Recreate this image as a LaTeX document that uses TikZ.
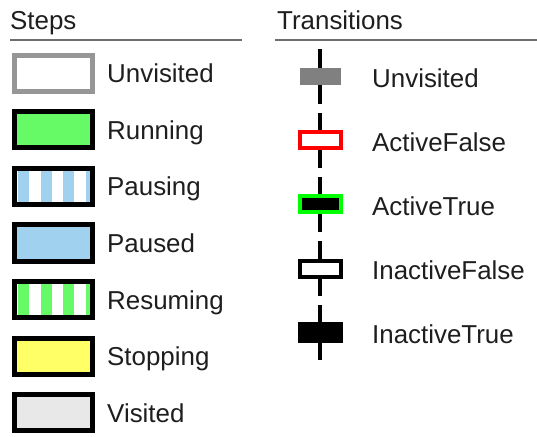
\documentclass[tikz,border=0pt]{standalone}
\usepackage{fontspec}
\setmainfont{Liberation Sans}
\usetikzlibrary{backgrounds}
\definecolor{runG}{RGB}{102,250,102}
\definecolor{pauB}{RGB}{160,210,240}
\definecolor{stopY}{RGB}{255,255,102}
\definecolor{visG}{RGB}{232,232,232}
\definecolor{unvG}{RGB}{150,150,150}
\definecolor{ruleG}{RGB}{110,110,110}
\definecolor{trG}{RGB}{128,128,128}
\definecolor{txt}{RGB}{30,30,30}
\tikzset{
  lbl/.style={font=\fontsize{26}{30}\selectfont, text=txt, inner sep=0pt, anchor=base west},
  stepbox/.style={rectangle, draw=black, line width=5bp, minimum width=78bp, minimum height=36bp, inner sep=0pt, outer sep=0pt},
  stripes/.style={fill=white, path picture={
      \foreach \i in {0,1,2,3}
        \fill[#1] ([xshift={(3.5+22.5*\i)*1bp}]path picture bounding box.south west) rectangle ++(11bp,45bp);
    }},
  trbox/.style={rectangle, line width=4bp, minimum width=41bp, minimum height=16bp, inner sep=0pt, outer sep=0pt},
  trline/.style={line width=4bp, black},
  hrule/.style={line width=2bp, ruleG}
}
\begin{document}
\begin{tikzpicture}[x=1bp, y=-1bp]
\useasboundingbox (0,0) rectangle (537,437);
% headings
\node[lbl] (hs) at (10,30) {Steps};
\node[lbl] (ht) at (277,30) {Transitions};
\coordinate (hsa) at (10,40); \coordinate (hsb) at (242,40);
\coordinate (hta) at (275,40); \coordinate (htb) at (537,40);
\draw[hrule] (hsa) -- (hsb);
\draw[hrule] (hta) -- (htb);
% steps
\node[stepbox, draw=unvG, fill=white] (s1) at (53.5,73.5) {};
\node[stepbox, fill=runG] (s2) at (53.5,130) {};
\node[stepbox, stripes=pauB] (s3) at (53.5,186.5) {};
\node[stepbox, fill=pauB] (s4) at (53.5,243) {};
\node[stepbox, stripes=runG] (s5) at (53.5,299.5) {};
\node[stepbox, fill=stopY] (s6) at (53.5,356) {};
\node[stepbox, fill=visG] (s7) at (53.5,412.5) {};
\node[lbl] (l1) at (107,83) {Unvisited};
\node[lbl] (l2) at (107,139.5) {Running};
\node[lbl] (l3) at (107,196) {Pausing};
\node[lbl] (l4) at (107,252.5) {Paused};
\node[lbl] (l5) at (107,309) {Resuming};
\node[lbl] (l6) at (107,365.5) {Stopping};
\node[lbl] (l7) at (107,422) {Visited};
% transitions
\node[trbox, fill=trG, minimum width=41bp, minimum height=17bp, line width=0pt] (t1) at (320,77) {};
\node[trbox, draw=red, fill=white] (t2) at (320,140.5) {};
\node[trbox, draw=green, fill=black] (t3) at (320,204.5) {};
\node[trbox, draw=black, fill=white] (t4) at (320,268.5) {};
\node[trbox, draw=black, fill=black, minimum height=17bp] (t5) at (320,332.5) {};
\foreach \k/\c in {1/76.5,2/140.5,3/204.5,4/268.5,5/332.5}{
  \coordinate (a\k) at (320,\c-27.5);
  \coordinate (b\k) at (320,\c+27.5);
}
\begin{scope}[on background layer]
\foreach \k in {1,...,5}{
  \draw[trline] (a\k) -- (b\k);
}
\end{scope}
\node[lbl] (m1) at (372,88) {Unvisited};
\node[lbl] (m2) at (372,151.5) {ActiveFalse};
\node[lbl] (m3) at (372,215.5) {ActiveTrue};
\node[lbl] (m4) at (372,279.5) {InactiveFalse};
\node[lbl] (m5) at (372,343.5) {InactiveTrue};
\end{tikzpicture}
\end{document}
